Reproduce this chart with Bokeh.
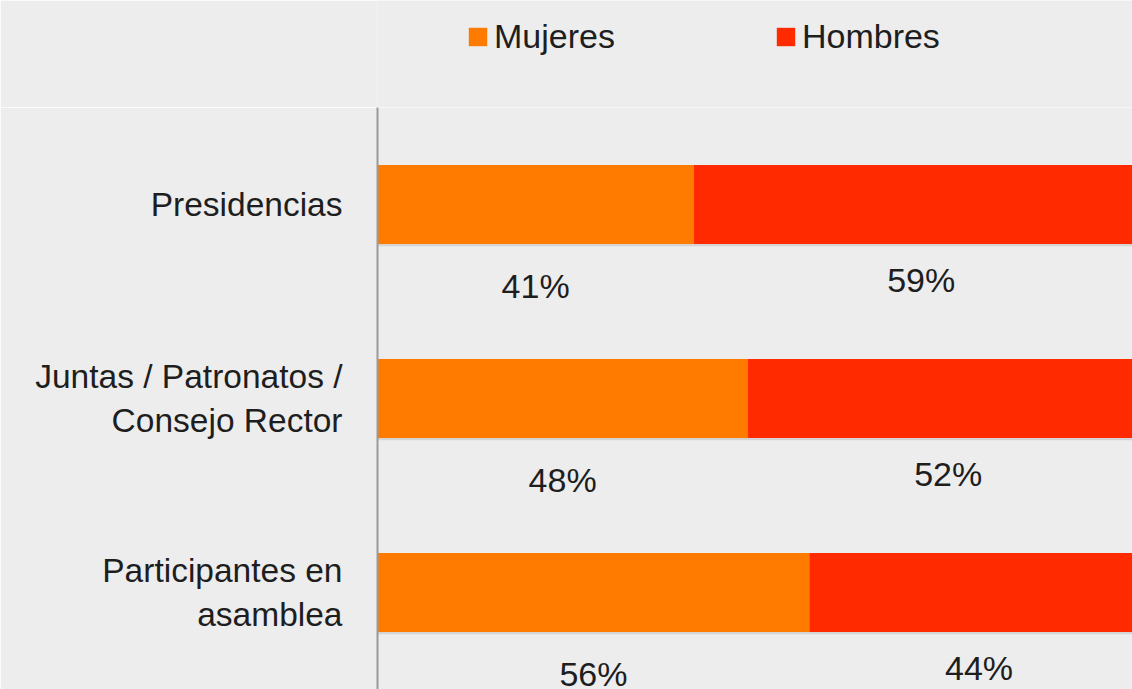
from bokeh.plotting import figure
from bokeh.layouts import column
from bokeh.models import ColumnDataSource, FactorRange, Range1d, Legend, LegendItem
from bokeh.transform import dodge
from bokeh.embed import file_html
from bokeh.resources import INLINE
from bokeh.core.properties import value

categories = ["Presidencias", "Juntas / Patronatos /\nConsejo Rector", "Participantes en\nasamblea"]
mujeres = [41, 48, 56]
hombres = [59, 52, 44]
series = ["Mujeres", "Hombres"]
colors = ["#ff7b00", "#ff2a00"]

total = [m + h for m, h in zip(mujeres, hombres)]
src = ColumnDataSource(dict(
    cat=categories,
    Mujeres=mujeres,
    Hombres=hombres,
    total=total,
    m_mid=[m / 2 for m in mujeres],
    h_mid=[m + h / 2 for m, h in zip(mujeres, hombres)],
    m_lab=[f"{m}%" for m in mujeres],
    h_lab=[f"{h}%" for h in hombres],
))

BG = "#ededed"
FONT = "Liberation Sans"
TXT = "#1e1e1e"

# ---- legend strip (top) ----
top = figure(width=1132, height=107, x_range=Range1d(0, 1), y_range=Range1d(0, 1),
             output_backend="svg", toolbar_location=None,
             min_border_left=0, min_border_right=0, min_border_top=0, min_border_bottom=0)
top.axis.visible = False
top.grid.visible = False
top.background_fill_color = BG
top.border_fill_color = BG
top.outline_line_color = None
# zero-size placeholder glyphs that only carry the legend swatches
swatch = ColumnDataSource(dict(y=[0], left=[0], right=[0]))
dummies = [top.hbar(y="y", left="left", right="right", height=0, fill_color=c,
                    line_color=None, source=swatch)
           for c in colors]
lg = Legend(items=[LegendItem(label=s, renderers=[r]) for s, r in zip(series, dummies)])
lg.orientation = "horizontal"
lg.location = (89, 51)
lg.padding = 0
lg.margin = 0
lg.spacing = 159
lg.glyph_width = 23
lg.glyph_height = 23
lg.label_standoff = 5
lg.label_text_font_size = "34px"
lg.label_text_font = FONT
lg.label_text_color = TXT
lg.background_fill_alpha = 0
lg.border_line_color = None
top.add_layout(lg)

# ---- main chart ----
p = figure(width=1132, height=582,
           y_range=FactorRange(factors=categories[::-1], range_padding=0),
           x_range=Range1d(0, 97.9),
           output_backend="svg", toolbar_location=None,
           min_border_left=377, min_border_top=0, min_border_bottom=0, min_border_right=0)
p.background_fill_color = BG
p.border_fill_color = BG
p.outline_line_color = None
p.xgrid.visible = False
p.ygrid.visible = False
p.xaxis.visible = False

# soft shadow under bars
p.hbar(y=dodge("cat", -0.012, range=p.y_range), left=0, right="total", height=0.407,
       source=src, fill_color="black", fill_alpha=0.10, line_color=None)

p.hbar_stack(series, y="cat", height=0.407, color=colors, line_color=None, source=src)

p.text(x="m_mid", y=dodge("cat", -0.42, range=p.y_range), text="m_lab", source=src,
       text_align="center", text_baseline="middle", text_font_size="34px",
       text_font=value(FONT), text_color=TXT)
p.text(x="h_mid", y=dodge("cat", -0.39, range=p.y_range), text="h_lab", source=src,
       text_align="center", text_baseline="middle", text_font_size="34px",
       text_font=value(FONT), text_color=TXT)

ax = p.yaxis[0]
ax.major_tick_line_color = None
ax.minor_tick_line_color = None
ax.axis_line_color = "#9a9a9a"
ax.axis_line_width = 2
ax.major_label_text_font_size = "33.5px"
ax.major_label_text_font = FONT
ax.major_label_text_color = TXT
ax.major_label_standoff = 29

layout = column(top, p, spacing=0)
open("out.html", "w").write(file_html(layout, INLINE))
